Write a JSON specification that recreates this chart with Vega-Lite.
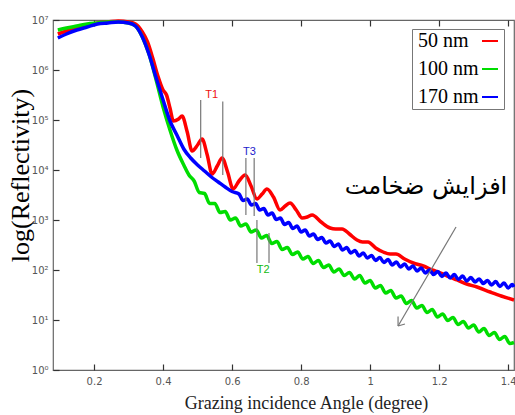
{
  "$schema": "https://vega.github.io/schema/vega-lite/v6.json",
  "width": 461,
  "height": 350,
  "autosize": {"type": "none"},
  "padding": {"left": 53, "top": 20, "right": 1, "bottom": 45},
  "background": "white",
  "config": {"view": {"stroke": "#666666", "strokeWidth": 1.2}, "axis": {"grid": false}},
  "datasets": {
    "curves": [
      {"series": "50 nm", "angle": 0.095, "logR": 6.72},
      {"series": "50 nm", "angle": 0.12, "logR": 6.78},
      {"series": "50 nm", "angle": 0.15, "logR": 6.84},
      {"series": "50 nm", "angle": 0.18, "logR": 6.9},
      {"series": "50 nm", "angle": 0.21, "logR": 6.94},
      {"series": "50 nm", "angle": 0.24, "logR": 6.96},
      {"series": "50 nm", "angle": 0.27, "logR": 6.98},
      {"series": "50 nm", "angle": 0.3, "logR": 6.96},
      {"series": "50 nm", "angle": 0.32, "logR": 6.92},
      {"series": "50 nm", "angle": 0.34, "logR": 6.76},
      {"series": "50 nm", "angle": 0.355, "logR": 6.56},
      {"series": "50 nm", "angle": 0.37, "logR": 6.24},
      {"series": "50 nm", "angle": 0.385, "logR": 5.88},
      {"series": "50 nm", "angle": 0.4, "logR": 5.6},
      {"series": "50 nm", "angle": 0.41, "logR": 5.5},
      {"series": "50 nm", "angle": 0.42, "logR": 5.24},
      {"series": "50 nm", "angle": 0.43, "logR": 4.98},
      {"series": "50 nm", "angle": 0.445, "logR": 5.02},
      {"series": "50 nm", "angle": 0.455, "logR": 5.08},
      {"series": "50 nm", "angle": 0.47, "logR": 4.76},
      {"series": "50 nm", "angle": 0.484, "logR": 4.38},
      {"series": "50 nm", "angle": 0.5, "logR": 4.5},
      {"series": "50 nm", "angle": 0.513, "logR": 4.62},
      {"series": "50 nm", "angle": 0.528, "logR": 4.3},
      {"series": "50 nm", "angle": 0.542, "logR": 3.92},
      {"series": "50 nm", "angle": 0.557, "logR": 4.08},
      {"series": "50 nm", "angle": 0.571, "logR": 4.24},
      {"series": "50 nm", "angle": 0.587, "logR": 3.96},
      {"series": "50 nm", "angle": 0.603, "logR": 3.62},
      {"series": "50 nm", "angle": 0.62, "logR": 3.78},
      {"series": "50 nm", "angle": 0.638, "logR": 3.9},
      {"series": "50 nm", "angle": 0.655, "logR": 3.68},
      {"series": "50 nm", "angle": 0.672, "logR": 3.42},
      {"series": "50 nm", "angle": 0.687, "logR": 3.52},
      {"series": "50 nm", "angle": 0.701, "logR": 3.62},
      {"series": "50 nm", "angle": 0.72, "logR": 3.46},
      {"series": "50 nm", "angle": 0.739, "logR": 3.2},
      {"series": "50 nm", "angle": 0.754, "logR": 3.28},
      {"series": "50 nm", "angle": 0.768, "logR": 3.34},
      {"series": "50 nm", "angle": 0.786, "logR": 3.2},
      {"series": "50 nm", "angle": 0.803, "logR": 3.04},
      {"series": "50 nm", "angle": 0.818, "logR": 3.06},
      {"series": "50 nm", "angle": 0.832, "logR": 3.1},
      {"series": "50 nm", "angle": 0.858, "logR": 2.96},
      {"series": "50 nm", "angle": 0.884, "logR": 2.84},
      {"series": "50 nm", "angle": 0.9, "logR": 2.82},
      {"series": "50 nm", "angle": 0.919, "logR": 2.82},
      {"series": "50 nm", "angle": 0.94, "logR": 2.72},
      {"series": "50 nm", "angle": 0.962, "logR": 2.6},
      {"series": "50 nm", "angle": 0.978, "logR": 2.56},
      {"series": "50 nm", "angle": 0.994, "logR": 2.56},
      {"series": "50 nm", "angle": 1.016, "logR": 2.44},
      {"series": "50 nm", "angle": 1.038, "logR": 2.36},
      {"series": "50 nm", "angle": 1.058, "logR": 2.32},
      {"series": "50 nm", "angle": 1.075, "logR": 2.32},
      {"series": "50 nm", "angle": 1.1, "logR": 2.22},
      {"series": "50 nm", "angle": 1.125, "logR": 2.14},
      {"series": "50 nm", "angle": 1.154, "logR": 2.08},
      {"series": "50 nm", "angle": 1.18, "logR": 2.0},
      {"series": "50 nm", "angle": 1.205, "logR": 1.94},
      {"series": "50 nm", "angle": 1.23, "logR": 1.86},
      {"series": "50 nm", "angle": 1.252, "logR": 1.8},
      {"series": "50 nm", "angle": 1.28, "logR": 1.72},
      {"series": "50 nm", "angle": 1.31, "logR": 1.66},
      {"series": "50 nm", "angle": 1.348, "logR": 1.56},
      {"series": "50 nm", "angle": 1.38, "logR": 1.48},
      {"series": "50 nm", "angle": 1.417, "logR": 1.4},

      {"series": "100 nm", "angle": 0.095, "logR": 6.8},
      {"series": "100 nm", "angle": 0.12, "logR": 6.84},
      {"series": "100 nm", "angle": 0.15, "logR": 6.88},
      {"series": "100 nm", "angle": 0.18, "logR": 6.92},
      {"series": "100 nm", "angle": 0.21, "logR": 6.94},
      {"series": "100 nm", "angle": 0.24, "logR": 6.96},
      {"series": "100 nm", "angle": 0.27, "logR": 6.96},
      {"series": "100 nm", "angle": 0.3, "logR": 6.94},
      {"series": "100 nm", "angle": 0.32, "logR": 6.88},
      {"series": "100 nm", "angle": 0.34, "logR": 6.66},
      {"series": "100 nm", "angle": 0.36, "logR": 6.3},
      {"series": "100 nm", "angle": 0.38, "logR": 5.8},
      {"series": "100 nm", "angle": 0.4, "logR": 5.26},
      {"series": "100 nm", "angle": 0.42, "logR": 4.8},
      {"series": "100 nm", "angle": 0.44, "logR": 4.4},
      {"series": "100 nm", "angle": 0.46, "logR": 4.1},
      {"series": "100 nm", "angle": 0.475, "logR": 3.9},
      {"series": "100 nm", "angle": 0.49, "logR": 3.78},
      {"series": "100 nm", "angle": 0.505, "logR": 3.55},
      {"series": "100 nm", "angle": 0.52, "logR": 3.53},
      {"series": "100 nm", "angle": 0.535, "logR": 3.33},
      {"series": "100 nm", "angle": 0.55, "logR": 3.33},
      {"series": "100 nm", "angle": 0.565, "logR": 3.15},
      {"series": "100 nm", "angle": 0.58, "logR": 3.17},
      {"series": "100 nm", "angle": 0.595, "logR": 3.0},
      {"series": "100 nm", "angle": 0.61, "logR": 3.04},
      {"series": "100 nm", "angle": 0.625, "logR": 2.88},
      {"series": "100 nm", "angle": 0.64, "logR": 2.92},
      {"series": "100 nm", "angle": 0.655, "logR": 2.76},
      {"series": "100 nm", "angle": 0.67, "logR": 2.8},
      {"series": "100 nm", "angle": 0.685, "logR": 2.64},
      {"series": "100 nm", "angle": 0.7, "logR": 2.69},
      {"series": "100 nm", "angle": 0.715, "logR": 2.53},
      {"series": "100 nm", "angle": 0.73, "logR": 2.57},
      {"series": "100 nm", "angle": 0.745, "logR": 2.41},
      {"series": "100 nm", "angle": 0.76, "logR": 2.45},
      {"series": "100 nm", "angle": 0.775, "logR": 2.31},
      {"series": "100 nm", "angle": 0.79, "logR": 2.36},
      {"series": "100 nm", "angle": 0.805, "logR": 2.22},
      {"series": "100 nm", "angle": 0.82, "logR": 2.27},
      {"series": "100 nm", "angle": 0.835, "logR": 2.13},
      {"series": "100 nm", "angle": 0.85, "logR": 2.19},
      {"series": "100 nm", "angle": 0.865, "logR": 2.05},
      {"series": "100 nm", "angle": 0.88, "logR": 2.1},
      {"series": "100 nm", "angle": 0.895, "logR": 1.96},
      {"series": "100 nm", "angle": 0.91, "logR": 2.02},
      {"series": "100 nm", "angle": 0.925, "logR": 1.89},
      {"series": "100 nm", "angle": 0.94, "logR": 1.95},
      {"series": "100 nm", "angle": 0.955, "logR": 1.82},
      {"series": "100 nm", "angle": 0.97, "logR": 1.89},
      {"series": "100 nm", "angle": 0.985, "logR": 1.74},
      {"series": "100 nm", "angle": 1.0, "logR": 1.79},
      {"series": "100 nm", "angle": 1.015, "logR": 1.64},
      {"series": "100 nm", "angle": 1.03, "logR": 1.69},
      {"series": "100 nm", "angle": 1.045, "logR": 1.54},
      {"series": "100 nm", "angle": 1.06, "logR": 1.59},
      {"series": "100 nm", "angle": 1.075, "logR": 1.44},
      {"series": "100 nm", "angle": 1.09, "logR": 1.48},
      {"series": "100 nm", "angle": 1.105, "logR": 1.33},
      {"series": "100 nm", "angle": 1.12, "logR": 1.39},
      {"series": "100 nm", "angle": 1.135, "logR": 1.24},
      {"series": "100 nm", "angle": 1.15, "logR": 1.29},
      {"series": "100 nm", "angle": 1.165, "logR": 1.15},
      {"series": "100 nm", "angle": 1.18, "logR": 1.21},
      {"series": "100 nm", "angle": 1.195, "logR": 1.06},
      {"series": "100 nm", "angle": 1.21, "logR": 1.12},
      {"series": "100 nm", "angle": 1.225, "logR": 0.99},
      {"series": "100 nm", "angle": 1.24, "logR": 1.05},
      {"series": "100 nm", "angle": 1.255, "logR": 0.91},
      {"series": "100 nm", "angle": 1.27, "logR": 0.97},
      {"series": "100 nm", "angle": 1.285, "logR": 0.84},
      {"series": "100 nm", "angle": 1.3, "logR": 0.9},
      {"series": "100 nm", "angle": 1.315, "logR": 0.76},
      {"series": "100 nm", "angle": 1.33, "logR": 0.83},
      {"series": "100 nm", "angle": 1.345, "logR": 0.69},
      {"series": "100 nm", "angle": 1.36, "logR": 0.75},
      {"series": "100 nm", "angle": 1.375, "logR": 0.61},
      {"series": "100 nm", "angle": 1.39, "logR": 0.67},
      {"series": "100 nm", "angle": 1.405, "logR": 0.53},
      {"series": "100 nm", "angle": 1.417, "logR": 0.55},

      {"series": "170 nm", "angle": 0.095, "logR": 6.64},
      {"series": "170 nm", "angle": 0.12, "logR": 6.72},
      {"series": "170 nm", "angle": 0.15, "logR": 6.8},
      {"series": "170 nm", "angle": 0.18, "logR": 6.86},
      {"series": "170 nm", "angle": 0.21, "logR": 6.92},
      {"series": "170 nm", "angle": 0.24, "logR": 6.94},
      {"series": "170 nm", "angle": 0.27, "logR": 6.96},
      {"series": "170 nm", "angle": 0.3, "logR": 6.94},
      {"series": "170 nm", "angle": 0.32, "logR": 6.88},
      {"series": "170 nm", "angle": 0.34, "logR": 6.66},
      {"series": "170 nm", "angle": 0.36, "logR": 6.3},
      {"series": "170 nm", "angle": 0.38, "logR": 5.84},
      {"series": "170 nm", "angle": 0.4, "logR": 5.4},
      {"series": "170 nm", "angle": 0.42, "logR": 4.98},
      {"series": "170 nm", "angle": 0.44, "logR": 4.7},
      {"series": "170 nm", "angle": 0.46, "logR": 4.42},
      {"series": "170 nm", "angle": 0.48, "logR": 4.24},
      {"series": "170 nm", "angle": 0.5, "logR": 4.1},
      {"series": "170 nm", "angle": 0.52, "logR": 3.98},
      {"series": "170 nm", "angle": 0.54, "logR": 3.86},
      {"series": "170 nm", "angle": 0.56, "logR": 3.76},
      {"series": "170 nm", "angle": 0.58, "logR": 3.66},
      {"series": "170 nm", "angle": 0.6, "logR": 3.57},
      {"series": "170 nm", "angle": 0.62, "logR": 3.52},
      {"series": "170 nm", "angle": 0.632, "logR": 3.39},
      {"series": "170 nm", "angle": 0.644, "logR": 3.42},
      {"series": "170 nm", "angle": 0.656, "logR": 3.3},
      {"series": "170 nm", "angle": 0.668, "logR": 3.33},
      {"series": "170 nm", "angle": 0.68, "logR": 3.2},
      {"series": "170 nm", "angle": 0.692, "logR": 3.23},
      {"series": "170 nm", "angle": 0.704, "logR": 3.1},
      {"series": "170 nm", "angle": 0.716, "logR": 3.14},
      {"series": "170 nm", "angle": 0.728, "logR": 3.01},
      {"series": "170 nm", "angle": 0.74, "logR": 3.04},
      {"series": "170 nm", "angle": 0.752, "logR": 2.91},
      {"series": "170 nm", "angle": 0.764, "logR": 2.95},
      {"series": "170 nm", "angle": 0.776, "logR": 2.83},
      {"series": "170 nm", "angle": 0.788, "logR": 2.88},
      {"series": "170 nm", "angle": 0.8, "logR": 2.76},
      {"series": "170 nm", "angle": 0.812, "logR": 2.8},
      {"series": "170 nm", "angle": 0.824, "logR": 2.68},
      {"series": "170 nm", "angle": 0.836, "logR": 2.72},
      {"series": "170 nm", "angle": 0.848, "logR": 2.61},
      {"series": "170 nm", "angle": 0.86, "logR": 2.65},
      {"series": "170 nm", "angle": 0.872, "logR": 2.54},
      {"series": "170 nm", "angle": 0.884, "logR": 2.58},
      {"series": "170 nm", "angle": 0.896, "logR": 2.47},
      {"series": "170 nm", "angle": 0.908, "logR": 2.52},
      {"series": "170 nm", "angle": 0.92, "logR": 2.4},
      {"series": "170 nm", "angle": 0.932, "logR": 2.45},
      {"series": "170 nm", "angle": 0.944, "logR": 2.34},
      {"series": "170 nm", "angle": 0.956, "logR": 2.39},
      {"series": "170 nm", "angle": 0.968, "logR": 2.28},
      {"series": "170 nm", "angle": 0.98, "logR": 2.34},
      {"series": "170 nm", "angle": 0.992, "logR": 2.24},
      {"series": "170 nm", "angle": 1.004, "logR": 2.29},
      {"series": "170 nm", "angle": 1.016, "logR": 2.19},
      {"series": "170 nm", "angle": 1.028, "logR": 2.25},
      {"series": "170 nm", "angle": 1.04, "logR": 2.15},
      {"series": "170 nm", "angle": 1.052, "logR": 2.21},
      {"series": "170 nm", "angle": 1.064, "logR": 2.1},
      {"series": "170 nm", "angle": 1.076, "logR": 2.16},
      {"series": "170 nm", "angle": 1.088, "logR": 2.06},
      {"series": "170 nm", "angle": 1.1, "logR": 2.12},
      {"series": "170 nm", "angle": 1.112, "logR": 2.02},
      {"series": "170 nm", "angle": 1.124, "logR": 2.08},
      {"series": "170 nm", "angle": 1.136, "logR": 1.98},
      {"series": "170 nm", "angle": 1.148, "logR": 2.04},
      {"series": "170 nm", "angle": 1.16, "logR": 1.94},
      {"series": "170 nm", "angle": 1.172, "logR": 2.0},
      {"series": "170 nm", "angle": 1.184, "logR": 1.91},
      {"series": "170 nm", "angle": 1.196, "logR": 1.97},
      {"series": "170 nm", "angle": 1.208, "logR": 1.87},
      {"series": "170 nm", "angle": 1.22, "logR": 1.94},
      {"series": "170 nm", "angle": 1.232, "logR": 1.84},
      {"series": "170 nm", "angle": 1.244, "logR": 1.91},
      {"series": "170 nm", "angle": 1.256, "logR": 1.81},
      {"series": "170 nm", "angle": 1.268, "logR": 1.88},
      {"series": "170 nm", "angle": 1.28, "logR": 1.78},
      {"series": "170 nm", "angle": 1.292, "logR": 1.85},
      {"series": "170 nm", "angle": 1.304, "logR": 1.76},
      {"series": "170 nm", "angle": 1.316, "logR": 1.82},
      {"series": "170 nm", "angle": 1.328, "logR": 1.73},
      {"series": "170 nm", "angle": 1.34, "logR": 1.79},
      {"series": "170 nm", "angle": 1.352, "logR": 1.7},
      {"series": "170 nm", "angle": 1.364, "logR": 1.77},
      {"series": "170 nm", "angle": 1.376, "logR": 1.67},
      {"series": "170 nm", "angle": 1.388, "logR": 1.74},
      {"series": "170 nm", "angle": 1.4, "logR": 1.64},
      {"series": "170 nm", "angle": 1.412, "logR": 1.71},
      {"series": "170 nm", "angle": 1.417, "logR": 1.66}
    ],
    "segments": [
      {"angle": 0.509, "logR": 5.4, "angle2": 0.509, "logR2": 4.24},
      {"angle": 0.573, "logR": 5.37, "angle2": 0.573, "logR2": 3.9},
      {"angle": 0.64, "logR": 4.24, "angle2": 0.64, "logR2": 3.1},
      {"angle": 0.664, "logR": 4.24, "angle2": 0.664, "logR2": 3.08},
      {"angle": 0.672, "logR": 3.0, "angle2": 0.672, "logR2": 2.14},
      {"angle": 0.707, "logR": 2.74, "angle2": 0.707, "logR2": 2.14},
      {"angle": 1.249, "logR": 2.86, "angle2": 1.081, "logR2": 0.88},
      {"angle": 1.081, "logR": 0.88, "angle2": 1.081, "logR2": 1.07},
      {"angle": 1.081, "logR": 0.88, "angle2": 1.101, "logR2": 0.92}
    ],
    "tlabels": [
      {"label": "T1", "angle": 0.541, "logR": 5.5},
      {"label": "T3", "angle": 0.65, "logR": 4.37},
      {"label": "T2", "angle": 0.69, "logR": 2.0}
    ],
    "note": [
      {"label": "افزایش ضخامت", "angle": 1.162, "logR": 3.66}
    ]
  },
  "layer": [
    {
      "data": {"name": "curves"},
      "mark": {"type": "line", "strokeWidth": 3.5, "interpolate": "monotone"},
      "encoding": {
        "x": {"field": "angle", "type": "quantitative",
              "scale": {"domain": [0.081, 1.417], "nice": false, "zero": false},
              "axis": {"orient": "bottom", "offset": -6, "domain": false, "values": [0.2, 0.4, 0.6, 0.8, 1, 1.2, 1.4], "format": "~g", "labelFlush": false,
                       "tickSize": 6, "tickWidth": 1.2, "labelPadding": 6, "labelFont": "DejaVu Sans", "labelFontSize": 10, "labelColor": "#555555",
                       "tickColor": "#333333",
                       "title": "Grazing incidence Angle (degree)", "titleFont": "Liberation Serif", "titleFontSize": 18,
                       "titleFontWeight": "normal", "titleColor": "#222222", "titleX": 253, "titleY": 44,
                       "titleBaseline": "alphabetic", "titleAlign": "center"}},
        "y": {"field": "logR", "type": "quantitative",
              "scale": {"domain": [0, 7], "nice": false, "zero": false},
              "axis": {"orient": "left", "offset": -6, "domain": false, "values": [0, 1, 2, 3, 4, 5, 6, 7],
                       "labelExpr": "'10' + ['⁰','¹','²','³','⁴','⁵','⁶','⁷'][datum.value]",
                       "tickSize": 6, "tickWidth": 1.2, "labelPadding": 5, "labelFont": "DejaVu Sans", "labelFontSize": 10, "labelColor": "#555555",
                       "tickColor": "#333333",
                       "title": "log(Reflectivity)", "titleFont": "Liberation Serif", "titleFontSize": 26,
                       "titleFontWeight": "normal", "titleColor": "#000000", "titleX": -39, "titleY": 155,
                       "titleAngle": -90, "titleAlign": "center", "titleBaseline": "middle"}},
        "color": {"field": "series", "type": "nominal",
                  "scale": {"domain": ["50 nm", "100 nm", "170 nm"], "range": ["#ff0000", "#00dd00", "#0000ff"]},
                  "legend": {"orient": "none", "legendX": 359, "legendY": 9, "title": "\u2003", "titleOrient": "right",
                             "titleFontSize": 11, "titlePadding": 0,
                             "symbolType": "stroke", "symbolSize": 256, "symbolStrokeWidth": 2,
                             "symbolOffset": 66, "labelOffset": -82,
                             "labelFont": "Liberation Serif", "labelFontSize": 20, "labelColor": "#000000",
                             "strokeColor": "#777777", "fillColor": "white", "padding": 2, "rowPadding": 8}}
      }
    },
    {
      "data": {"name": "curves"},
      "mark": {"type": "rule", "opacity": 0},
      "encoding": {
        "x": {"field": "angle", "type": "quantitative",
              "axis": {"orient": "top", "offset": -6, "values": [0.2, 0.4, 0.6, 0.8, 1, 1.2, 1.4], "labels": false, "tickSize": 6, "tickWidth": 1.2,
                       "tickColor": "#333333", "domain": false, "title": null}}
      }
    },
    {
      "data": {"name": "segments"},
      "mark": {"type": "rule", "color": "#777777", "strokeWidth": 1.2},
      "encoding": {
        "x": {"field": "angle", "type": "quantitative",
              "axis": {"orient": "bottom", "labels": false, "ticks": false, "domain": false, "title": null}},
        "x2": {"field": "angle2"},
        "y": {"field": "logR", "type": "quantitative"},
        "y2": {"field": "logR2"}
      }
    },
    {
      "data": {"name": "tlabels"},
      "mark": {"type": "text", "font": "Liberation Sans", "fontSize": 11},
      "encoding": {
        "x": {"field": "angle", "type": "quantitative",
              "axis": {"orient": "bottom", "labels": false, "ticks": false, "domain": false, "title": null}},
        "y": {"field": "logR", "type": "quantitative"},
        "text": {"field": "label"},
        "fill": {"field": "label", "type": "nominal",
                 "scale": {"domain": ["T1", "T2", "T3"], "range": ["#ee1111", "#11bb11", "#2222cc"]}, "legend": null}
      }
    },
    {
      "data": {"name": "note"},
      "mark": {"type": "text", "font": "DejaVu Sans", "fontSize": 24, "color": "#000000"},
      "encoding": {
        "x": {"field": "angle", "type": "quantitative",
              "axis": {"orient": "bottom", "labels": false, "ticks": false, "domain": false, "title": null}},
        "y": {"field": "logR", "type": "quantitative"},
        "text": {"field": "label"}
      }
    }
  ]
}
